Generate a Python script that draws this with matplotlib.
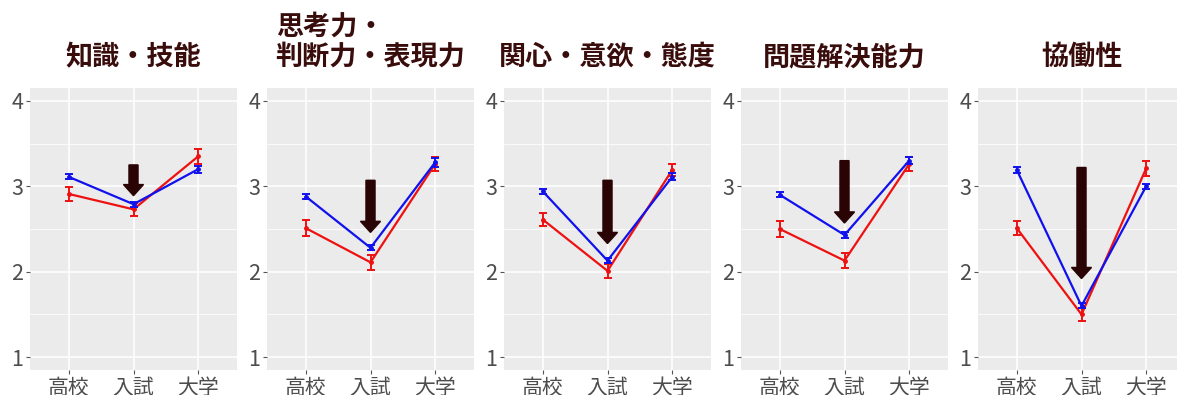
import numpy as np
import matplotlib
matplotlib.use("Agg")
import matplotlib.pyplot as plt
from matplotlib.patches import FancyArrow
from matplotlib.ticker import MultipleLocator

plt.rcParams['font.family'] = ['Noto Sans CJK JP', 'DejaVu Sans']

# stages on the x axis
stages = ['高校', '入試', '大学']
titles = ['知識・技能', '思考力・\n判断力・表現力', '関心・意欲・態度', '問題解決能力', '協働性']

# group means (red / blue) and standard errors, one row per panel
red_mean = [
    [2.91, 2.73, 3.35],
    [2.51, 2.11, 3.26],
    [2.61, 2.01, 3.19],
    [2.50, 2.13, 3.26],
    [2.51, 1.50, 3.21],
]
red_se = [
    [0.08, 0.08, 0.09],
    [0.09, 0.09, 0.08],
    [0.08, 0.08, 0.07],
    [0.09, 0.09, 0.08],
    [0.08, 0.08, 0.09],
]
blue_mean = [
    [3.11, 2.79, 3.20],
    [2.88, 2.28, 3.28],
    [2.94, 2.13, 3.11],
    [2.90, 2.43, 3.30],
    [3.19, 1.60, 3.00],
]
blue_se = [
    [0.03, 0.03, 0.04],
    [0.03, 0.03, 0.05],
    [0.03, 0.03, 0.04],
    [0.03, 0.03, 0.04],
    [0.03, 0.03, 0.03],
]
# downward arrows at 入試 (start, end)
arrow_top = [3.25, 3.07, 3.07, 3.30, 3.22]
arrow_tip = [2.89, 2.46, 2.33, 2.57, 1.92]

W, H = 1177, 395
fig = plt.figure(figsize=(W / 100, H / 100), dpi=100)

lefts = [30, 267, 504, 741, 978]
pw, top_px, bot_px = 207, 88, 370

x = np.arange(len(stages))
title_col = '#3a0d0d'
arrow_col = '#2a0404'

for i in range(5):
    ax = fig.add_axes([lefts[i] / W, 1 - bot_px / H, pw / W, (bot_px - top_px) / H])
    ax.set_facecolor('#ebebeb')
    for s in ax.spines.values():
        s.set_visible(False)
    ax.set_xlim(-0.6, 2.6)
    ax.set_ylim(0.85, 4.15)
    ax.set_xticks(x)
    ax.set_xticklabels(stages)
    ax.set_yticks([1, 2, 3, 4])
    ax.yaxis.set_minor_locator(MultipleLocator(0.5))
    ax.grid(True, which='major', color='white', linewidth=1.1)
    ax.grid(True, which='minor', axis='y', color='white', linewidth=0.55)
    ax.set_axisbelow(True)
    ax.tick_params(which='major', length=2.75, width=0.8, color='#555555',
                   labelcolor='#4d4d4d', pad=2)
    ax.tick_params(axis='x', labelsize=15)
    ax.tick_params(axis='y', labelsize=15.5)
    ax.tick_params(which='minor', length=0)

    ax.errorbar(x, red_mean[i], yerr=red_se[i], color='#ee1111', lw=1.6,
                capsize=2.6, capthick=1.4, elinewidth=1.4, marker='o', ms=2.5, zorder=3)
    ax.errorbar(x, blue_mean[i], yerr=blue_se[i], color='#1111ee', lw=1.6,
                capsize=2.6, capthick=1.4, elinewidth=1.4, marker='o', ms=2.5, zorder=4)

    ax.add_patch(FancyArrow(1, arrow_top[i], 0, arrow_tip[i] - arrow_top[i],
                            width=0.14, head_width=0.31, head_length=0.13,
                            length_includes_head=True, color=arrow_col, zorder=5))

    ax.text(0.5, 1 + 17 / (bot_px - top_px), titles[i], transform=ax.transAxes,
            ha='center', va='bottom', multialignment='left', fontsize=19.5,
            fontweight='bold', color=title_col, linespacing=1.1)

fig.savefig('out.png', dpi=100)
